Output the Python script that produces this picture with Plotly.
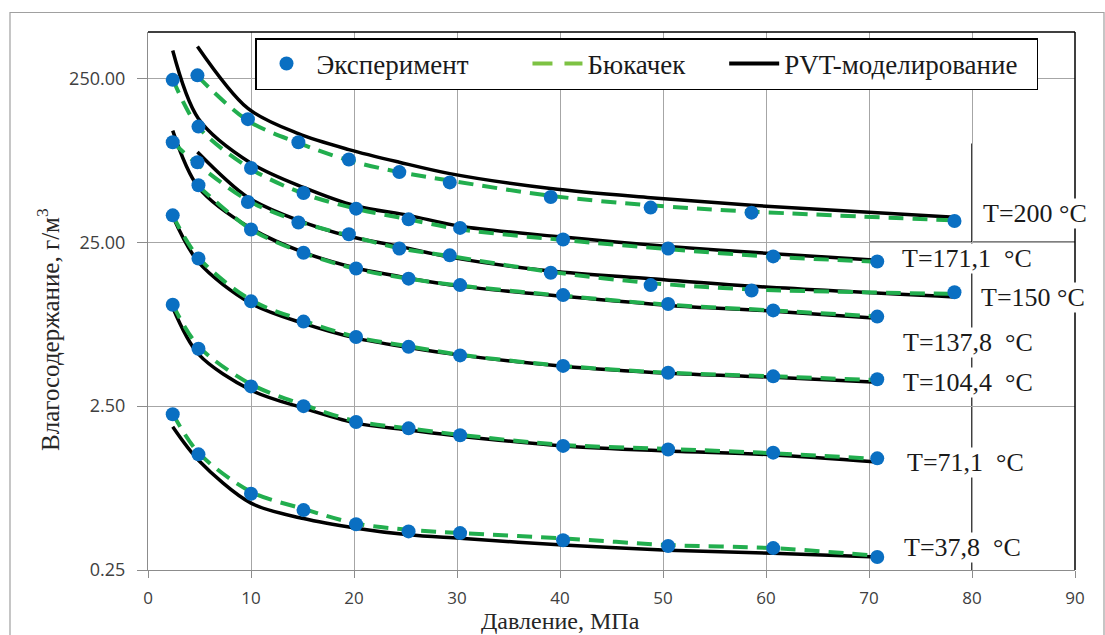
import plotly.graph_objects as go

# Pressure, MPa (two sets of measurement pressures)
P_A = [2.4, 4.8, 9.7, 14.6, 19.5, 24.4, 29.3, 39.1, 48.8, 58.6, 78.3]
P_B = [2.4, 4.9, 10.0, 15.1, 20.2, 25.3, 30.3, 40.3, 50.5, 60.7, 70.8]

temps = ["T=200 °C", "T=171,1\u00a0 °C", "T=150 °C", "T=137,8\u00a0 °C",
         "T=104,4\u00a0 °C", "T=71,1\u00a0 °C", "T=37,8\u00a0 °C"]

# Experiment, g/m3
exp_200 = [261, 141, 102, 80, 67, 58, 47.2, 40.7, 37.9, 33.7]          # P_A[1:]
exp_171 = [245, 127, 71, 50, 40.1, 34.5, 30.6, 26.0, 22.9, 20.5, 19.1]  # P_B
exp_150 = [102, 77, 44, 33, 28, 22.9, 20.8, 16.3, 13.7, 12.7, 12.4]     # P_A
exp_138 = [55.7, 29.9, 21.6, 17.3, 15.0, 13.7, 11.9, 10.5, 9.6, 8.8]    # P_B[1:]
exp_104 = [36.5, 19.9, 10.9, 8.2, 6.6, 5.75, 5.1, 4.4, 4.0, 3.8, 3.65]  # P_B
exp_71 = [10.4, 5.6, 3.3, 2.5, 2.0, 1.83, 1.66, 1.43, 1.36, 1.30, 1.20]  # P_B
exp_38 = [2.23, 1.27, 0.73, 0.58, 0.475, 0.43, 0.42, 0.38, 0.35, 0.34, 0.30]  # P_B

# Bukacek correlation
buk_200 = [258, 138, 101, 79, 67, 59.5, 48, 42, 38.5, 34]
buk_171 = [248, 126, 70, 49.5, 40, 34.5, 30, 25.8, 22.7, 20.4, 19.0]
buk_150 = [102, 75, 45, 33.5, 27.5, 23, 20.6, 16.5, 14.1, 12.9, 12.1]
buk_138 = [55, 30, 21.5, 17.2, 15.0, 13.6, 11.8, 10.4, 9.6, 8.8]
buk_104 = [36.5, 20.2, 11.1, 8.3, 6.6, 5.8, 5.15, 4.4, 4.0, 3.8, 3.6]
buk_71 = [10.4, 5.8, 3.4, 2.55, 2.02, 1.83, 1.67, 1.45, 1.37, 1.29, 1.19]
buk_38 = [2.25, 1.3, 0.75, 0.59, 0.48, 0.44, 0.42, 0.39, 0.355, 0.34, 0.305]

# PVT modelling
pvt_200 = [392, 164, 115, 92, 77, 65.6, 53.2, 46.8, 42.0, 35.5]          # P_A[1:]
pvt_171 = [370, 142, 76, 54, 41.6, 36.5, 31.3, 26.9, 23.6, 21.3, 19.4]   # P_B
pvt_150 = [89, 47, 34, 27.2, 23.6, 20.3, 16.7, 15.0, 13.5, 11.6]         # P_A[1:]
pvt_138 = [120, 54, 30.4, 21.7, 17.4, 15.1, 13.5, 11.7, 10.3, 9.5, 8.6]  # P_B
pvt_104 = [36.0, 18.9, 10.6, 8.0, 6.5, 5.7, 5.12, 4.38, 3.97, 3.75, 3.5]
pvt_71 = [10.0, 5.19, 3.13, 2.43, 1.97, 1.79, 1.64, 1.43, 1.33, 1.26, 1.14]
pvt_38 = [1.87, 1.17, 0.64, 0.515, 0.45, 0.41, 0.39, 0.355, 0.33, 0.316, 0.30]

y_tickvals = [0.25, 2.5, 25, 250]
y_ticktext = ["0.25", "2.50", "25.00", "250.00"]

series = [
    (P_A[1:], exp_200, P_A[1:], buk_200, P_A[1:], pvt_200),
    (P_B, exp_171, P_B, buk_171, P_B, pvt_171),
    (P_A, exp_150, P_A, buk_150, P_A[1:], pvt_150),
    (P_B[1:], exp_138, P_B[1:], buk_138, P_B, pvt_138),
    (P_B, exp_104, P_B, buk_104, P_B, pvt_104),
    (P_B, exp_71, P_B, buk_71, P_B, pvt_71),
    (P_B, exp_38, P_B, buk_38, P_B, pvt_38),
]

BLUE = "#0A6FC2"
GREEN = "#22AE4E"
GREEN_LEG = "#7DC243"
SERIF = "Liberation Serif"
NB = "\u00a0"

fig = go.Figure()
for xe, ye, xb, yb, xp, yp in series:
    fig.add_trace(go.Scatter(x=xp, y=yp, mode="lines", showlegend=False,
                             line=dict(color="black", width=3.5, shape="spline", smoothing=0.9)))
for xe, ye, xb, yb, xp, yp in series:
    fig.add_trace(go.Scatter(x=xb, y=yb, mode="lines", showlegend=False,
                             line=dict(color=GREEN, width=4, dash="15px,9px", shape="spline", smoothing=0.9)))
for xe, ye, xb, yb, xp, yp in series:
    fig.add_trace(go.Scatter(x=xe, y=ye, mode="markers", showlegend=False,
                             marker=dict(color=BLUE, size=14)))

# legend entries
fig.add_trace(go.Scatter(x=[None], y=[None], mode="markers", name="Эксперимент" + NB * 8,
                         marker=dict(color=BLUE, size=14)))
fig.add_trace(go.Scatter(x=[None], y=[None], mode="lines", name="Бюкачек" + NB * 5,
                         line=dict(color=GREEN_LEG, width=4, dash="20px,12px")))
fig.add_trace(go.Scatter(x=[None], y=[None], mode="lines", name="PVT-моделирование" + NB * 2,
                         line=dict(color="black", width=4)))

L, R, T, B = 148, 1075, 32, 570
W, H = 1105, 635


def px(xp):
    return (xp - L) / (R - L)


def py(yp):
    return (B - yp) / (B - T)


label_pos = [(1035, 213), (967, 258), (1033, 297), (968, 342), (968, 383), (965, 462), (962, 547)]

annotations = []
for txt, (ax_, ay_) in zip(temps, label_pos):
    annotations.append(dict(text=txt, x=px(ax_), y=py(ay_), xref="paper", yref="paper",
                            xanchor="center", yanchor="middle",
                            showarrow=False, bgcolor="white", borderpad=0,
                            font=dict(family=SERIF, size=26, color="#1a1a1a")))
annotations.append(dict(text="Давление, МПа", x=px(560), y=py(621), xref="paper", yref="paper",
                        xanchor="center", yanchor="middle",
                        showarrow=False, font=dict(family=SERIF, size=24, color="#262626")))
annotations.append(dict(text="Влагосодержание, г/м<sup>3</sup>", x=px(48), y=py(330), xref="paper",
                        yref="paper", xanchor="center", yanchor="middle", showarrow=False, textangle=-90,
                        font=dict(family=SERIF, size=25, color="#262626")))

shapes = [
    # outer chart border
    dict(type="rect", xref="paper", yref="paper", x0=px(10), x1=px(1104), y0=py(660), y1=py(12.5),
         line=dict(color="#A0A0A0", width=1.2), layer="below"),
    # top and right frame lines
    dict(type="line", xref="x domain", yref="y domain", x0=0, x1=1, y0=1, y1=1,
         line=dict(color="black", width=1.5)),
    dict(type="line", xref="x domain", yref="y domain", x0=1, x1=1, y0=0, y1=1,
         line=dict(color="black", width=1.5)),
    # black emphasised grid segments
    dict(type="line", xref="x", yref="y", x0=80, x1=80, y0=0.25, y1=100,
         line=dict(color="black", width=1.5), layer="below"),
    dict(type="line", xref="x", yref="y", x0=70, x1=90, y0=25, y1=25,
         line=dict(color="black", width=1.5), layer="below"),
]

fig.update_layout(
    width=W, height=H,
    margin=dict(l=L, r=W - R, t=T, b=H - B),
    paper_bgcolor="white", plot_bgcolor="white",
    showlegend=True,
    legend=dict(orientation="h", x=px(255), y=py(38), xanchor="left", yanchor="top",
                bgcolor="white", bordercolor="black", borderwidth=1.5,
                font=dict(family=SERIF, size=27, color="#1a1a1a"), itemwidth=50,
                traceorder="normal"),
    annotations=annotations,
    shapes=shapes,
    xaxis=dict(range=[0, 90], dtick=10, showgrid=True, gridcolor="#A6A6A6", gridwidth=1.2,
               zeroline=False, showline=True, linecolor="#8C8C8C", linewidth=1.2,
               ticks="outside", ticklen=7, tickcolor="#8C8C8C", ticklabelstandoff=5,
               tickfont=dict(family="Open Sans", size=17, color="#404040")),
    yaxis=dict(type="log", range=[-0.60206, 2.6812], tickvals=y_tickvals, ticktext=y_ticktext,
               showgrid=True, gridcolor="#A6A6A6", gridwidth=1.2, zeroline=False,
               showline=True, linecolor="#8C8C8C", linewidth=1.2,
               ticks="outside", ticklen=10, tickcolor="#8C8C8C", ticklabelstandoff=8,
               tickfont=dict(family="Open Sans", size=18, color="#404040")),
)

fig.write_html("out.html", config={"displayModeBar": False},
               post_script="document.body.style.margin='0';document.body.style.overflow='hidden';")
